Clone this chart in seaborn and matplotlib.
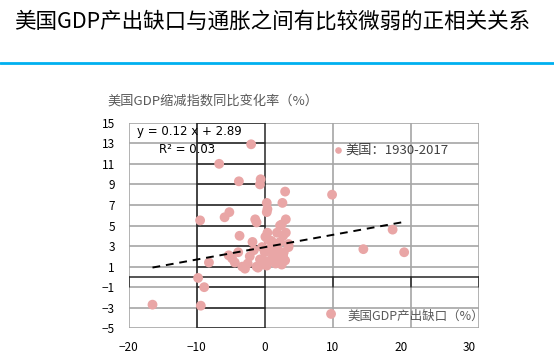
import numpy as np
import pandas as pd
import matplotlib
matplotlib.use("Agg")
import matplotlib.pyplot as plt
import seaborn as sns

# output gap (%) vs GDP deflator yoy (%), US 1930-2017
gap = [-16.5, -9.4, -8.9, -9.8, -9.5, -8.2, -6.7, -5.9, -5.2, -5.3,
       -4.4, -3.9, -3.8, -3.7, -2.0, -2.9, -2.5, -2.2, -1.8, -1.4,
       -1.2, -1.2, -0.7, -0.6, -0.7, -0.4, -0.3, 0.0, 0.3, 0.3,
       0.4, 0.3, 0.4, 0.5, 0.8, 0.9, 1.2, 1.3, 1.5, 1.8,
       1.6, 2.0, 2.25, 2.25, 2.25, 2.5, 2.5, 2.6, 2.7, 2.7,
       3.0, 3.0, 3.1, 3.1, 3.5, 3.5, 9.9, 9.75, 14.5, 18.8,
       20.5, -4.8, -3.3, -1.6, -1.0, 0.1, 1.0, 1.9, 2.8, -0.2]
deflator = [-2.7, -2.8, -1.0, -0.1, 5.5, 1.4, 11.0, 5.8, 6.3, 2.1,
            1.4, 2.4, 9.3, 4.0, 12.9, 0.8, 1.3, 2.0, 3.4, 5.6,
            5.3, 1.0, 1.7, 9.5, 9.0, 2.9, 1.2, 2.4, 1.1, 6.3,
            6.6, 7.2, 4.3, 3.6, 1.6, 2.8, 2.0, 2.4, 3.1, 4.3,
            1.3, 1.8, 1.4, 3.4, 5.0, 1.2, 5.1, 7.2, 2.0, 4.0,
            8.3, 1.6, 5.6, 4.3, 2.9, 3.2, 8.0, -3.6, 2.7, 4.6,
            2.4, 1.8, 1.0, 2.6, 0.9, 3.9, 3.5, 2.7, 2.4, 1.6]
slope, intercept = 0.12, 2.89
xticks = [-20, -10, 0, 10, 20, 30]
yticks = [15, 13, 11, 9, 7, 5, 3, 1, -1, -3, -5]

df = pd.DataFrame({"gap": gap, "deflator": deflator})

sns.set_style("white")
plt.rcParams["font.family"] = ["Noto Sans CJK SC", "DejaVu Sans"]

fig = plt.figure(figsize=(5.54, 3.59), dpi=100)
ax = fig.add_axes([0.2323, 0.0855, 0.6323, 0.5727])

grid_c = "#A6A6A6"
# gray grid
for yv in yticks:
    ax.axhline(yv, color=grid_c, lw=1.2, zorder=0)
for xv in [-20, -10, 10, 21.5, 31.5]:
    ax.axvline(xv, color=grid_c, lw=1.2, zorder=0)
# dark box overlay
for xv in [-10, 0]:
    ax.axvline(xv, color="#262626", lw=1.1, zorder=1)
for yv in yticks:
    ax.plot([-10, 0], [yv, yv], color="#262626", lw=1.1, zorder=1)
ax.axhline(0, color="#262626", lw=1.1, zorder=1)
for xv in [-20, 10, 21.5, 31.5]:
    ax.plot([xv, xv], [0, -1], color="#262626", lw=1.1, zorder=1)

sns.scatterplot(data=df, x="gap", y="deflator", ax=ax, color="#E9A6A6",
                s=50, edgecolor="none", zorder=3, legend=False)

xs = np.array([min(gap), max(gap)])
ax.plot(xs, slope * xs + intercept, ls=(0, (4, 3)), color="black", lw=1.4, zorder=4)

ax.set_xlim(-20, 31.5)
ax.set_ylim(-5, 15)
ax.set_xticks(xticks)
ax.set_yticks(yticks)
ax.tick_params(axis="both", length=0, labelsize=8.5, colors="black")
ax.tick_params(axis="y", pad=10)
ax.tick_params(axis="x", pad=9)
ax.set_xlabel("")
ax.set_ylabel("")
for sp in ax.spines.values():
    sp.set_visible(False)

ax.text(-18.8, 14.1, f"y = {slope} x + {intercept}", fontsize=8.5, color="black",
        va="center", family=["DejaVu Sans"], zorder=5)
ax.text(-15.5, 12.4, "R² = 0.03", fontsize=8.5, color="black", va="center",
        family=["DejaVu Sans"], zorder=5)

ax.scatter([10.8], [12.3], s=14, color="#E9A6A6", zorder=5)
ax.text(11.8, 12.3, "美国：1930-2017", fontsize=9.5, color="#404040", va="center", zorder=5)
ax.text(12.2, -3.8, "美国GDP产出缺口（%）", fontsize=9, color="#595959", va="center", zorder=5)

fig.text(107 / 554, 1 - 101 / 359, "美国GDP缩减指数同比变化率（%）", fontsize=9.5,
         color="#595959", va="center", ha="left")
fig.text(272 / 554, 1 - 22 / 359, "美国GDP产出缺口与通胀之间有比较微弱的正相关关系",
         fontsize=15.5, color="black", ha="center", va="center")
fig.add_artist(plt.Line2D([0, 1], [1 - 63 / 359] * 2, color="#00B0F0", lw=2))

fig.savefig("out.png", dpi=100)
